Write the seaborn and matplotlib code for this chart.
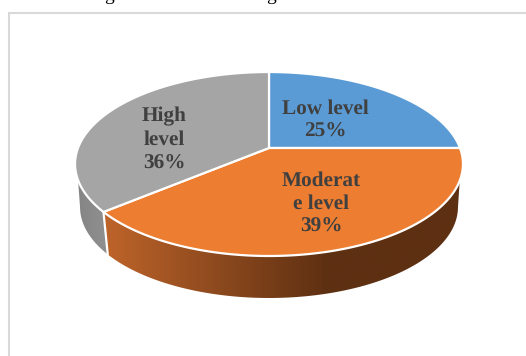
import numpy as np
import matplotlib
matplotlib.use("Agg")
import matplotlib.pyplot as plt
from matplotlib.colors import LinearSegmentedColormap
from matplotlib.patches import Polygon
import seaborn as sns

categories = ["Low level", "Moderat\ne level", "High\nlevel"]
shares = [25, 39, 36]
slice_colors = ["#5B9BD5", "#ED7D31", "#A5A5A5"]

sns.set_theme(style="white")
plt.rcParams["text.hinting"] = "no_hinting"
palette = sns.color_palette(slice_colors)

fig = plt.figure(figsize=(5.26, 3.56), dpi=100, facecolor="white")
ax = fig.add_axes([0, 0, 1, 1])
ax.set_xlim(0, 526)
ax.set_ylim(356, 0)
ax.axis("off")

# Camera-style projection of the unit disc, so the apex sits above the rim's centre
APEX = (269.0, 148.0)
SPREAD_X, SPREAD_Y, TILT = 191.0, 89.2, 0.174
RIM_CY, RIM_RX = 164.0, 194.0
BASE_CY, BASE_RX, BASE_SCALE_Y = 207.0, 189.0, 91.0 / 92.0
WALL_START_Y = 180.0


def rim(theta):
    """Top-face rim points for clockwise angles measured from twelve o'clock."""
    u, v = np.sin(theta), np.cos(theta)
    w = 1 + TILT * v
    return APEX[0] + SPREAD_X * u / w, APEX[1] - SPREAD_Y * v / w


def base(theta):
    """Matching points on the lower edge of the pie's side wall."""
    x, y = rim(theta)
    return APEX[0] + (x - APEX[0]) * BASE_RX / RIM_RX, BASE_CY + (y - RIM_CY) * BASE_SCALE_Y


edges = 2 * np.pi * np.concatenate([[0], np.cumsum(shares)]) / np.sum(shares)


def wall(theta_a, theta_b, cmap, x0, x1, zorder):
    """Shaded side-wall section with a horizontal gradient, open at the hidden end."""
    t = np.linspace(theta_a, theta_b, 300)
    tx, ty = rim(t)
    bx, by = base(t)
    top_keep = ty >= WALL_START_Y
    base_keep = by >= BASE_CY
    pts = np.vstack([
        np.column_stack([tx[top_keep], ty[top_keep]]),
        np.column_stack([bx[base_keep], by[base_keep]])[::-1],
    ])
    poly = Polygon(pts, closed=True, facecolor="none", edgecolor="none", zorder=zorder)
    ax.add_patch(poly)
    ramp = np.linspace(0, 1, 256).reshape(1, -1)
    img = ax.imshow(ramp, cmap=cmap, extent=(x0, x1, 356, 0), aspect="auto", zorder=zorder)
    img.set_clip_path(poly)


orange_wall = LinearSegmentedColormap.from_list(
    "orange_wall", [(0, "#BE642A"), (0.62, "#5E3012"), (1, "#5E3012")]
)
gray_wall = LinearSegmentedColormap.from_list("gray_wall", ["#848484", "#909090"])

wall(edges[1], edges[2], orange_wall, 104, 463, 2)
wall(edges[2], 3 * np.pi / 2 + 0.2, gray_wall, 75, 108, 2)
ax.set_xlim(0, 526)
ax.set_ylim(356, 0)

# White seam between the two visible wall sections
sx0, sy0 = rim(edges[2])
sx1, sy1 = base(edges[2])
ax.plot([sx0, sx1], [sy0, sy1], color="white", lw=1.6, zorder=3)

# Top face of the pie
for i, color in enumerate(palette):
    t = np.linspace(edges[i], edges[i + 1], 200)
    x, y = rim(t)
    pts = np.column_stack([np.r_[APEX[0], x], np.r_[APEX[1], y]])
    ax.add_patch(Polygon(pts, closed=True, facecolor=color, edgecolor="white",
                         lw=1.6, joinstyle="round", zorder=4))

# Slice labels
label_font = dict(family="Liberation Serif", fontweight="bold", fontsize=15.3,
                  color="#404040", ha="center", va="center", linespacing=1.28, zorder=5)
label_pos = [(325.5, 120), (321, 204), (164, 140)]
for name, share, (lx, ly) in zip(categories, shares, label_pos):
    ax.text(lx, ly, f"{name}\n{share}%", **label_font)

# Chart-area border, open on the right and at the bottom
ax.plot([8.5, 8.5, 526], [356, 12.5, 12.5], color="#D9D9D9", lw=1.5,
        solid_joinstyle="miter", zorder=1)

# Descenders of the caption line running off the top edge
for gx in (109, 271):
    ax.text(gx, 0, "g", family="Liberation Serif", fontsize=14, color="black",
            ha="center", va="baseline", zorder=6)

fig.savefig("out.png", dpi=100, facecolor="white")
